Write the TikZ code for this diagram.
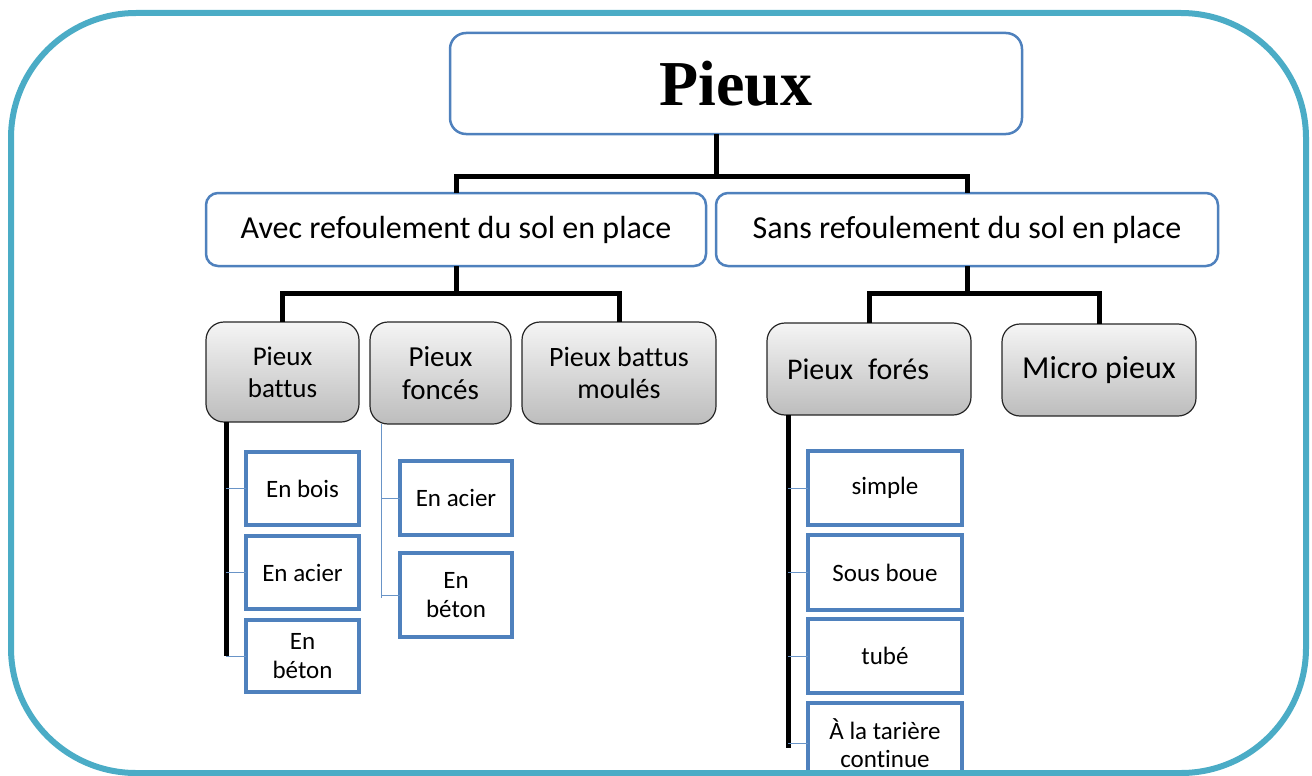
\documentclass[tikz,border=0pt]{standalone}
\usepackage{fontspec}
\setmainfont{Carlito}[Ligatures=NoCommon]
\newfontfamily\titlefont{Liberation Serif}
\usetikzlibrary{calc}
\definecolor{frameblue}{HTML}{4BACC6}
\definecolor{boxblue}{HTML}{4F81BD}

\begin{document}
\begin{tikzpicture}[x=1pt,y=-1pt,
  every node/.style={inner sep=0pt, outer sep=0pt, align=center, text=black},
  title/.style={draw=boxblue, line width=2.5pt, rounded corners=16pt, fill=white,
    minimum width=572pt, minimum height=101pt,
    font=\titlefont\bfseries\fontsize{64}{64}\selectfont},
  branch/.style={draw=boxblue, line width=2.5pt, rounded corners=12pt, fill=white,
    minimum height=73pt, font=\fontsize{32}{36}\selectfont},
  kind/.style={draw=black!85, line width=1.2pt, rounded corners=18pt,
    top color=black!4, bottom color=black!26},
  leaf/.style={draw=boxblue, line width=3.5pt, fill=white,
    font=\fontsize{25}{28.5}\selectfont},
  trunk/.style={draw=black, line width=5pt},
  twig/.style={draw=boxblue!85, line width=1pt}]

\useasboundingbox (0,0) rectangle (1312,776);
\clip (0,0) rectangle (1312,776);

% root and the two families
\node[title] (top) at (736,83.5) {Pieux};
\node[branch, minimum width=500pt] (avec) at (456,229.5) {Avec refoulement du sol en place};
\node[branch, minimum width=502pt] (sans) at (967,229.5) {Sans refoulement du sol en place};

% kinds of piles
\node[kind, minimum width=153pt, minimum height=100pt, font=\fontsize{27}{32}\selectfont]
  (battus) at (282.5,372) {Pieux\\battus};
\node[kind, minimum width=141pt, minimum height=102pt, font=\fontsize{29}{33}\selectfont]
  (fonces) at (440.5,373) {Pieux\\foncés};
\node[kind, minimum width=194pt, minimum height=102pt, font=\fontsize{28}{32}\selectfont]
  (moules) at (619,373) {Pieux battus\\moulés};
\node[kind, inner xsep=20pt, text width=164pt, align=left, minimum height=92pt,
  font=\fontsize{30}{34}\selectfont]
  (fores) at (869,369) {Pieux\hspace{15pt}forés};
\node[kind, minimum width=194pt, minimum height=92pt, font=\fontsize{32}{36}\selectfont]
  (micro) at (1099,370) {Micro pieux};

% materials and methods
\node[leaf, minimum width=113pt, minimum height=73pt] (bois)    at (302.5,488.5) {En bois};
\node[leaf, minimum width=113pt, minimum height=73pt] (acierA)  at (302.5,572.5) {En acier};
\node[leaf, minimum width=113pt, minimum height=72pt] (betonA)  at (302.5,656)   {En\\béton};
\node[leaf, minimum width=112pt, minimum height=74pt] (acierB)  at (456,498)     {En acier};
\node[leaf, minimum width=112pt, minimum height=84pt] (betonB)  at (456,595)     {En\\béton};
\node[leaf, minimum width=154pt, minimum height=74pt] (simple)  at (885,488)     {simple};
\node[leaf, minimum width=154pt, minimum height=75pt] (boue)    at (885,572.5)   {Sous boue};
\node[leaf, minimum width=154pt, minimum height=74pt] (tube)    at (885,656)     {tubé};
\node[leaf, minimum width=154pt, minimum height=80pt] (tariere) at (885,743)     {À la tarière\\continue};

% upper tree
\coordinate (j0) at (716,176);
\draw[trunk] (top.south -| j0) -- (j0);
\draw[trunk] (avec.north) |- (j0) -| (sans.north);

\coordinate (j1) at (456,293);
\draw[trunk] (avec.south) -- (j1);
\draw[trunk] (battus.north) |- (j1) -| (moules.north);

\coordinate (j2) at (967,293);
\draw[trunk] (sans.south) -- (j2);
\draw[trunk] (fores.north) |- (j2) -| (micro.north);

% lists under the kinds
\coordinate (s1) at (226,656);
\draw[trunk] (battus.south -| s1) -- (s1);
\foreach \n in {bois,acierA,betonA}
  \draw[twig] (\n.west) -- (\n.west -| s1);

\coordinate (s2) at (381,598);
\draw[twig] (fonces.south -| s2) -- (s2);
\foreach \n in {acierB,betonB}
  \draw[twig] (\n.west) -- (\n.west -| s2);

\coordinate (s3) at (788,748);
\draw[trunk] (fores.south -| s3) -- (s3);
\foreach \n in {simple,boue,tube,tariere}
  \draw[twig] (\n.west) -- (\n.west -| s3);

% outer frame
\draw[frameblue, line width=6pt, rounded corners=125pt] (11,13) rectangle (1306,773);
\end{tikzpicture}
\end{document}
